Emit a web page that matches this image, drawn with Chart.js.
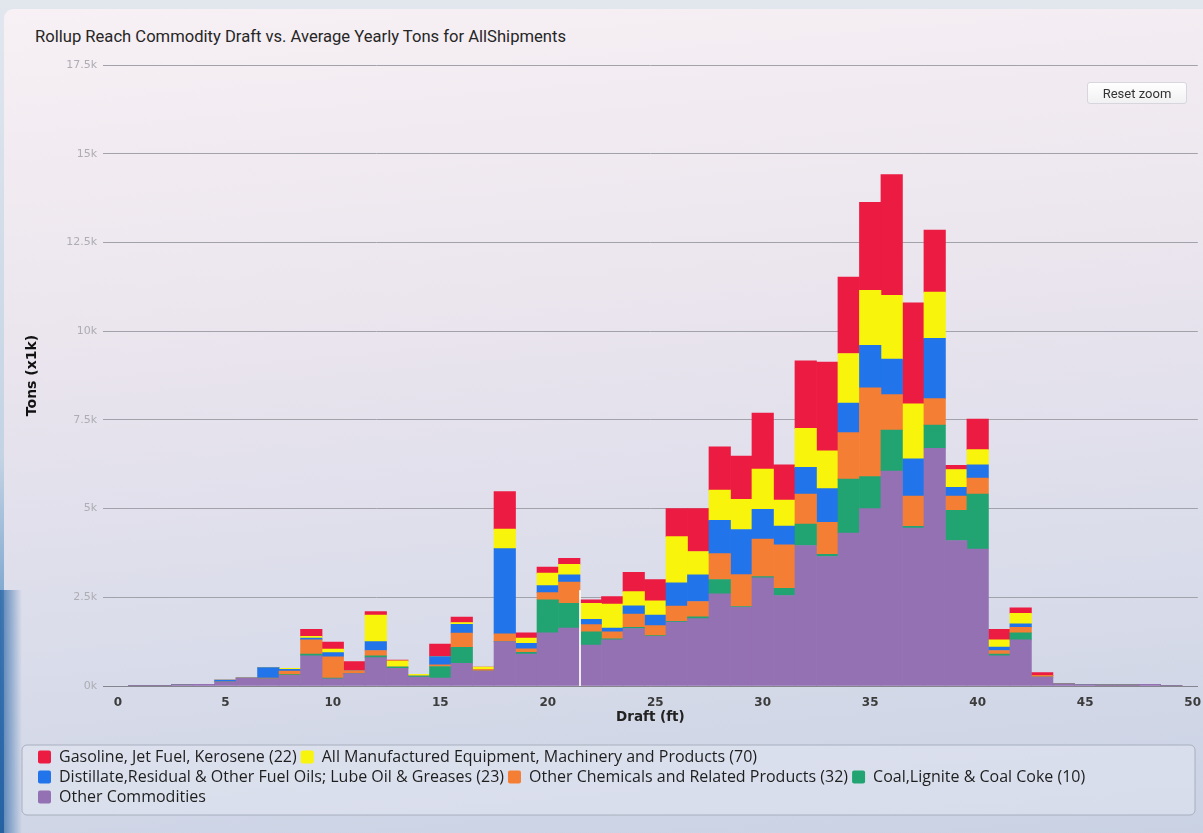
<!DOCTYPE html>
<html>
<head>
<meta charset="utf-8">
<title>Rollup Reach Commodity Draft vs. Average Yearly Tons</title>
<script src="https://cdn.jsdelivr.net/npm/chart.js@4.4.1/dist/chart.umd.min.js"></script>
<style>
    html, body { margin: 0; padding: 0; }
    body {
        width: 1203px;
        height: 833px;
        overflow: hidden;
        position: relative;
        background: linear-gradient(to bottom, #e2e7ee 0%, #c3d3e4 55%, #4a86bf 85%, #1e5d9a 100%);
        font-family: Roboto, "Liberation Sans", sans-serif;
    }
    .panel {
        position: absolute;
        left: 4px;
        top: 9px;
        width: 1215px;
        height: 840px;
        border-radius: 9px;
        background: linear-gradient(175deg, #f7f0f4 0%, #ebe5ee 35%, #d9dcea 70%, #c8d1e3 100%);
    }
    .edge {
        position: absolute;
        left: 0;
        top: 590px;
        width: 22px;
        height: 243px;
        background: linear-gradient(to right, rgba(40, 100, 165, 0.8), rgba(40, 100, 165, 0));
    }
    #chartTitle {
        position: absolute;
        left: 35px;
        top: 27px;
        font-size: 16.6px;
        color: #262626;
        white-space: nowrap;
    }
    #resetZoom {
        position: absolute;
        left: 1087px;
        top: 82px;
        width: 100px;
        height: 22px;
        padding: 0;
        font-family: Roboto, "Liberation Sans", sans-serif;
        font-size: 13px;
        color: #333;
        background: linear-gradient(#ffffff, #f1f1f3);
        border: 1px solid #d6d6dc;
        border-radius: 3px;
    }
    canvas { position: absolute; left: 0; top: 0; }
</style>
</head>
<body>
<div class="panel"></div>
<div class="edge"></div>
<div id="chartTitle">Rollup Reach Commodity Draft vs. Average Yearly Tons for AllShipments</div>
<canvas id="draftChart" width="1203" height="833"></canvas>
<button id="resetZoom">Reset zoom</button>

<script>
// Draft (ft) of each bar
const drafts = [1, 2, 3, 4, 5, 6, 7, 8, 9, 10,
    11, 12, 13, 14, 15, 16, 17, 18, 19, 20,
    21, 22, 23, 24, 25, 26, 27, 28, 29, 30,
    31, 32, 33, 34, 35, 36, 37, 38, 39, 40,
    41, 42, 43, 44, 45, 46, 47, 48, 49];

// Average yearly tons (x1k), one array per commodity group
const otherCommodities = [0.02, 0.02, 0.04, 0.05, 0.12, 0.22, 0.2, 0.3, 0.85, 0.2,
    0.35, 0.8, 0.5, 0.25, 0.22, 0.64, 0.42, 1.25, 0.9, 1.5,
    1.63, 1.15, 1.3, 1.62, 1.4, 1.8, 1.9, 2.6, 2.22, 3.05,
    2.55, 3.96, 3.65, 4.31, 5.0, 6.06, 4.45, 6.7, 4.1, 3.86,
    0.85, 1.3, 0.25, 0.06, 0.04, 0.03, 0.03, 0.05, 0.02];

const coal = [0, 0, 0, 0, 0, 0, 0, 0.02, 0.05, 0.02,
    0, 0.05, 0.03, 0.03, 0.33, 0.45, 0, 0, 0.05, 0.93,
    0.7, 0.38, 0.03, 0.03, 0.02, 0.02, 0.05, 0.4, 0.02, 0.03,
    0.2, 0.6, 0.06, 1.52, 0.9, 1.15, 0.05, 0.65, 0.85, 1.55,
    0.05, 0.2, 0, 0, 0, 0, 0, 0, 0];

const chemicals = [0, 0, 0, 0, 0, 0, 0.02, 0.1, 0.4, 0.6,
    0.08, 0.15, 0, 0, 0.05, 0.4, 0.05, 0.22, 0.1, 0.2,
    0.6, 0.2, 0.2, 0.38, 0.28, 0.43, 0.43, 0.73, 0.9, 1.06,
    1.23, 0.85, 0.9, 1.31, 2.5, 1.0, 0.85, 0.75, 0.4, 0.45,
    0.1, 0.15, 0.05, 0.01, 0, 0, 0, 0, 0];

const distillate = [0, 0, 0, 0, 0.05, 0, 0.3, 0.05, 0.05, 0.12,
    0, 0.25, 0, 0, 0.23, 0.25, 0, 2.4, 0.15, 0.2,
    0.2, 0.15, 0.1, 0.23, 0.3, 0.66, 0.75, 0.94, 1.27, 0.84,
    0.53, 0.75, 0.95, 0.83, 1.2, 1.0, 1.05, 1.7, 0.25, 0.37,
    0.1, 0.1, 0, 0, 0, 0, 0, 0, 0];

const manufactured = [0, 0, 0, 0, 0, 0, 0, 0.03, 0.05, 0.1,
    0, 0.75, 0.18, 0.05, 0, 0.05, 0.06, 0.55, 0.15, 0.35,
    0.3, 0.45, 0.68, 0.4, 0.4, 1.3, 0.66, 0.85, 0.85, 1.13,
    0.73, 1.1, 1.07, 1.4, 1.55, 1.8, 1.55, 1.3, 0.5, 0.43,
    0.2, 0.3, 0, 0, 0, 0, 0, 0, 0];

const gasoline = [0, 0, 0, 0, 0, 0, 0, 0, 0.2, 0.2,
    0.26, 0.1, 0.02, 0, 0.35, 0.15, 0, 1.06, 0.15, 0.17,
    0.17, 0.1, 0.21, 0.54, 0.6, 0.79, 1.21, 1.22, 1.22, 1.58,
    0.99, 1.9, 2.5, 2.15, 2.48, 3.4, 2.85, 1.75, 0.12, 0.86,
    0.3, 0.15, 0.08, 0, 0, 0, 0, 0, 0];

// Axis ticks
const yTicks = [0, 2.5, 5, 7.5, 10, 12.5, 15, 17.5];
const xTicks = [0, 5, 10, 15, 20, 25, 30, 35, 40, 45, 50];

// Stack order, bottom to top
const series = [
    { label: 'Other Commodities', values: otherCommodities, color: '#9471b2' },
    { label: 'Coal,Lignite & Coal Coke (10)', values: coal, color: '#22a472' },
    { label: 'Other Chemicals and Related Products (32)', values: chemicals, color: '#f57e35' },
    { label: 'Distillate,Residual & Other Fuel Oils; Lube Oil & Greases (23)', values: distillate, color: '#2174ea' },
    { label: 'All Manufactured Equipment, Machinery and Products (70)', values: manufactured, color: '#f8f40c' },
    { label: 'Gasoline, Jet Fuel, Kerosene (22)', values: gasoline, color: '#ec1b42' }
];

// Rounded frame behind the legend, plus the white marker line
const legendFrame = {
    id: 'legendFrame',
    afterLayout(chart) {
        chart.legend.left += 14;
    },
    beforeDraw(chart) {
        const lg = chart.legend;
        const c = chart.ctx;
        c.save();
        c.beginPath();
        c.roundRect(22, lg.top, 1173, lg.height, 5);
        c.fillStyle = 'rgba(238, 240, 248, 0.35)';
        c.fill();
        c.lineWidth = 1;
        c.strokeStyle = '#a7aebd';
        c.stroke();
        c.restore();
    },
    afterDatasetsDraw(chart) {
        const x = chart.scales.x.getPixelForValue(21.5);
        const y = chart.scales.y;
        const c = chart.ctx;
        c.save();
        c.strokeStyle = 'rgba(255, 255, 255, 0.85)';
        c.lineWidth = 2;
        c.beginPath();
        c.moveTo(x, y.getPixelForValue(2.7));
        c.lineTo(x, y.getPixelForValue(0));
        c.stroke();
        c.restore();
    }
};

function initChart() {
    const ctx = document.getElementById('draftChart');
    new Chart(ctx, {
        type: 'bar',
        data: {
            datasets: series.map(s => ({
                label: s.label,
                data: drafts.map((d, i) => ({ x: d, y: s.values[i] })),
                backgroundColor: s.color,
                borderWidth: 0,
                barPercentage: 1,
                categoryPercentage: 1
            }))
        },
        options: {
            responsive: false,
            animation: false,
            layout: { padding: { left: 20, right: 0, top: 65, bottom: 18 } },
            plugins: {
                tooltip: { enabled: true },
                legend: {
                    position: 'bottom',
                    align: 'start',
                    labels: {
                        boxWidth: 13,
                        boxHeight: 13,
                        padding: 4,
                        color: '#1e1e1e',
                        useBorderRadius: true,
                        borderRadius: 2,
                        font: { family: 'Open Sans', size: 16 },
                        sort: (a, b) => b.datasetIndex - a.datasetIndex
                    }
                }
            },
            scales: {
                x: {
                    type: 'linear',
                    stacked: true,
                    offset: false,
                    min: -0.69,
                    max: 50.24,
                    grid: { display: false, offset: false },
                    border: { color: '#85858d' },
                    afterBuildTicks: scale => {
                        scale.ticks = xTicks.map(v => ({ value: v }));
                    },
                    ticks: {
                        maxRotation: 0,
                        padding: 2,
                        color: '#3c3c3c',
                        font: { family: 'DejaVu Sans', size: 12, weight: 'bold' }
                    },
                    title: {
                        display: true,
                        text: 'Draft (ft)',
                        color: '#222',
                        font: { family: 'DejaVu Sans', size: 13.5, weight: 'bold' },
                        padding: { top: 0, bottom: 19 }
                    },
                    afterFit: scale => { scale.height = 59; }
                },
                y: {
                    stacked: true,
                    min: 0,
                    max: 17.5,
                    afterBuildTicks: scale => {
                        scale.ticks = yTicks.map(v => ({ value: v }));
                    },
                    ticks: {
                        padding: 6,
                        color: '#adadb3',
                        font: { family: 'DejaVu Sans', size: 11 },
                        callback: v => v + 'k'
                    },
                    grid: { color: '#a2a2aa', drawTicks: false },
                    border: { display: false },
                    title: {
                        display: true,
                        text: 'Tons (x1k)',
                        color: '#111',
                        font: { family: 'DejaVu Sans', size: 14, weight: 'bold' },
                        padding: { top: 4, bottom: 0 }
                    },
                    afterFit: scale => { scale.width = 83; }
                }
            }
        },
        plugins: [legendFrame]
    });
}

document.addEventListener('DOMContentLoaded', initChart);
</script>
</body>
</html>
